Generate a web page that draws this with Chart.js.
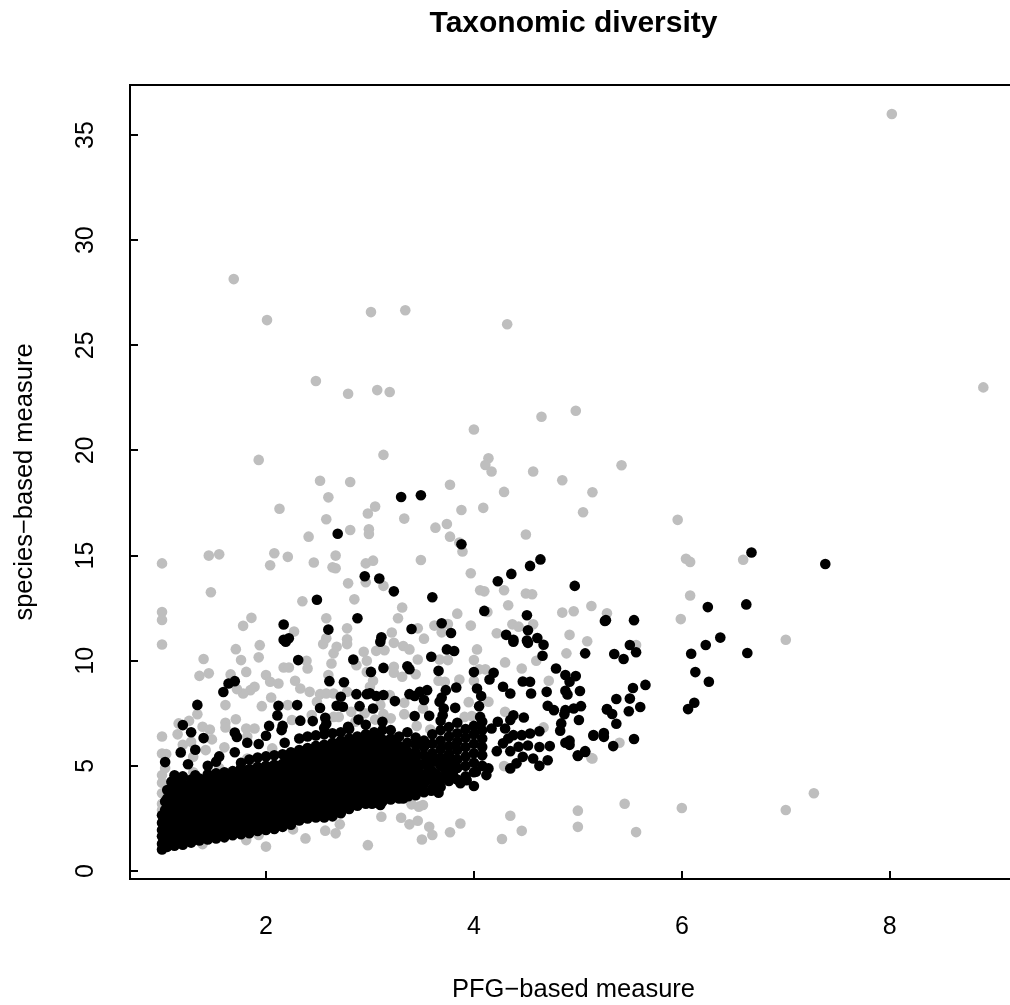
<!DOCTYPE html>
<html><head><meta charset="utf-8">
<script src="https://cdn.jsdelivr.net/npm/chart.js@4"></script>
<style>html,body{margin:0;padding:0;background:#fff;overflow:hidden}#w{width:1010px;height:1005px;overflow:hidden}canvas{display:block}</style>
</head><body><div id="w"><canvas id="c" width="1017" height="1005"></canvas></div>
<script>
const chartTitle="Taxonomic diversity";
const xTitle="PFG\u2212based measure";
const yTitle="species\u2212based measure";
const xTicks=[2,4,6,8];
const yTicks=[0,5,10,15,20,25,30,35];
const grayColour="#bebebe";
const blackColour="#000000";

const grayOutliers=[[8.02,36],[8.9,23],[1.69,28.15],[2.01,26.2],[3.01,26.58],[3.34,26.67],[4.32,26],[2.48,23.3],[2.79,22.7],[3.07,22.87],[3.19,22.78],
[4.65,21.6],[4.98,21.89],[4,21],[1.93,19.55],[3.13,19.79],[4.14,19.63],[4.11,19.31],[4.17,19],[4.57,19],[5.42,19.3],[4.85,18.58],[5.14,18.01],[3.77,18.37],[4.29,18.03],
[2.52,18.56],[2.81,18.5],[2.6,17.77],[2.13,17.23],[2.98,17],[3.05,17.33],[3.88,17.17],[4.09,17.27],[5.05,17.06],[3.33,16.76],[2.58,16.73],[5.96,16.7],
[2.99,16.25],[2.99,16.03],[2.81,16.22],[2.41,15.9],[3.63,16.33],[3.74,16.5],[3.77,15.9],[3.86,15.62],[3.89,15.2],[4.5,16],
[2.08,15.11],[2.21,14.94],[2.04,14.54],[2.46,14.67],[2.67,15],[2.64,14.44],[2.67,14.4],[2.96,14.63],[3.03,14.76],[3.49,14.79],[3.97,14.16],
[1,14.63],[1.45,15],[1.55,15.06],[1.47,13.26],[6.04,14.85],[6.08,14.7],[6.59,14.8],[6.08,13.1],[5.99,11.98],[7,11],
[2.79,13.68],[2.96,13.73],[2.35,12.83],[2.85,12.92],[3.13,13.56],[4.06,13.35],[4.1,13.3],[4.29,13.35],[4.5,13.2],[4.56,13.16],
[1,12.32],[1,11.94],[2.58,12.02],[1.86,12.04],[1.78,11.66],[2.78,11.54],[2.27,11.39],[2.58,11.07],[2.78,11.02],
[3.31,12.53],[4.33,12.64],[3.84,12.24],[4.85,12.29],[4.96,12.35],[5.13,12.6],[5.28,12.26],[3.27,12.02],[4.37,11.73],[4.43,11.62],[4.57,11.73],[3.97,11.67],[3.75,11.75],[3.62,11.67],[3.46,11.54],[3.21,11.34],[3.69,11.35],[4.22,11.31],[4.92,11.23],[3.52,11.05],[4.13,12.32],[5.56,10.75]];

const grayUpperLeft=[[1,10.77],[1.71,10.55],[1.94,10.74],[1.4,10.08],[1.76,10.03],[1.93,10.16],[1.36,9.28],[1.45,9.4],[1.66,9.35],[1.81,9.47],[2,9.32],[2.17,9.68],[2.22,9.68],[2.39,10],[2.4,9.63],
[2.04,9],[2.12,8.92],[2.28,9.05],[2.33,8.68],[2.42,8.52],[1.89,8.76],[1.85,8.6],[1.78,8.44],[1.72,8.65],[1.61,7.89],[2.05,8.25],[1.96,7.84],[2.21,7.89],[1.34,7.46],[1.71,7.22],[1.61,7.05],[1.61,6.83],
[1.26,7.14],[1.16,7.02],[1.39,6.86],[1.46,6.73],[1.15,6.5],[1,6.4],[1.28,6.15],[1.48,6.26],[1.2,6],[1.42,5.75],[1.6,5.88],[1,5.59],[1.04,5.56],[1.3,5.43],[1.81,6.78],[1.89,6.78],[1.82,6.4],[2.06,5.83],[2.25,7.18],
[2.49,8.05],[2.52,8.41],[2.58,8.44],[2.65,8.44],[2.78,8.52],[2.6,9.32],[2.63,9.87],[2.65,10.35],[2.55,10.79],[2.68,10.66],[2.78,10.79],[2.94,10.43],[2.97,10],[2.97,9.47],[2.87,9.79],
[2.7,7.33],[2.65,7.33],[2.44,7.42],[2.82,7.57],[2.87,6.38],[1,4.56],[1,4.2],[1,3.7],[1,3.2],[1,2.9],[1.03,4.9],[1.82,5.35],[1.9,5.2],[1.55,4.9],[1.3,4.7]];

const grayLower=[[1.81,1.47],[2,1.16],[2.26,1.98],[2.38,1.55],[2.57,1.92],[2.67,1.79],[2.71,2.22],[1.39,1.28],[1.93,1.71],[2.98,1.23],[2.65,2.66],
[3.4,3.17],[3.51,3.14],[3.47,3.06],[3.11,2.58],[3.3,2.53],[3.38,2.22],[3.46,2.39],[3.57,2.1],[3.6,1.71],[3.5,1.5],[3.77,1.84],[3.87,2.26],[4.27,1.52],[4.35,2.63],[4.46,1.91],[5,2.87],[5,2.1],[5.45,3.2],[5.56,1.85],[6,3],[7,2.9],[7.27,3.7],[5.13,5.37],[5.4,6.1]];

const grayMiddle=[[3.23,10.85],[3.32,10.7],[3.38,10.54],[3.06,10.47],[3.14,10.5],[3.46,10.06],[3.67,10.06],[3.75,10.03],[4.03,10.54],[4,10.03],[4.3,9.92],[4.11,9.59],[4.05,9.59],[4.46,9.63],[4.6,10],[4.89,10.35],[5.09,10.93],
[3.23,9.71],[3.23,9.43],[3.31,9.24],[3.44,9.36],[3.03,9.05],[3.66,9.05],[3.72,9],[3.86,9.11],[4,9.05],[4.72,9.05],[3,8.76],[3.19,8.37],[3.33,8],[3.51,7.73],[3.95,8.03],[4.14,8.05],[4.3,7.57],[3.13,7.46],[3.2,7.26],[3.33,7.46],[3.91,7.33],[3.98,7.37],[3.58,6.73],[4.67,6.83],[5.14,5.35],[4.29,4.99],[3.45,6.9],[3.1,7.9],[2.95,7.5],[2.86,7.1],[3.05,7.2]];

const blackOutliers=[[3.3,17.79],[3.49,17.87],[2.69,16.04],[3.88,15.54],[4.64,14.82],[4.54,14.51],[4.36,14.13],[4.23,13.78],[3.09,13.91],[2.95,14.02],[3.23,13.3],[3.6,13.02],[4.97,13.56],[2.49,12.9],
[7.38,14.6],[6.67,15.15],[6.62,12.68],[6.25,12.55],[5.27,11.93],[5.54,11.93],[6.37,11.1],[6.23,10.75],[6.09,10.33],[6.63,10.37],[6.13,9.46],[6.26,9],[6.06,7.7],[6.12,8],
[5.65,8.85],[5.53,8.7],[5.6,7.8],[5.49,7.6],[5.5,8.2],[5.37,8.18],[5.28,7.7],[5.33,7.47],[5.37,7],[5.25,6.56],[5.15,6.47],[5.34,5.94],[5.54,6.28],[5.07,5.66],[5,5.5],[5.5,10.75],[5.44,10.08],[5.56,10.4],[5.35,10.32],
[4.1,12.37],[4.51,12.16],[3.69,11.78],[3.4,11.51],[3.78,11.32],[5.26,11.89],[4.52,11.45],[4.31,11.23],[4.61,11.08],[3.11,11.12],[4.38,11],[4.51,10.96],[2.88,12.02],[2.6,11.48],[2.17,11.72],[2.22,11.07],[2.17,11]];

const blackScattered=[[2.19,10.9],[2.31,10.03],[2.84,10.06],[1.7,9.03],[1.64,8.92],[1.59,8.51],[1.34,7.9],[2.61,9.03],[2.75,8.98],[2.3,7.89],[2.12,7.86],[2.11,7.4],[2.52,7.75],
[1.2,6.94],[1.28,6.6],[1.4,6.32],[1.32,5.77],[1.18,5.64],[1.03,5.18],[1.25,5.08],[1.7,6.59],[1.72,6.37],[1.7,5.65],[1.55,5.45],[1.82,6.1],[1.93,6.04],[2.03,6.9],[2,6.43],[2.16,6.9],[2.15,6.7],[2.18,6.1],[2.33,7.15],[2.45,7.13],
[2.72,8.29],[2.87,8.41],[2.97,8.41],[2.68,7.86],[2.74,7.81],[2.9,7.84],[2.89,7.2],[2.79,6.86],[2.57,7.29],[2.58,7],
[3.1,10.9],[3.74,10.54],[3.81,10.46],[3.59,10.19],[4.66,10.24],[4.67,10.76],[5.07,10.35],[4.38,10.9],[4.52,10.85],[3.13,9.66],[3.36,9.74],[3.38,9.6],[3.66,9.52],[3.01,9.47],[4,9.46],[4.19,9.43],[4.15,9.11],[4.79,9.63],[4.88,9.32],[4.98,9.27],[4.92,9],
[4.28,8.76],[4.35,8.44],[4.47,9.01],[4.54,9],[4.55,8.44],[4.7,8.52],[4.88,8.57],[4.9,8.4],[5.02,8.56],[3.83,8.73],[3.73,8.6],[4.03,8.68],[4.07,8.32],[3.55,8.6],[3.48,8.52],[3.38,8.41],[3.43,8.32],[3.52,8.13],[3.24,8.08],[3.13,8.37],[3.06,8.32],[3,8.45],[3.03,7.73],
[3.67,8.05],[3.69,8.25],[3.71,7.73],[3.82,7.76],[4.05,7.84],[3.57,7.38],[3.43,7.37],[3.7,7.41],[4.06,7.33],[4.48,7.3],[4.38,7.41],[4.23,7.1],[4.35,7.18],[4.71,7.86],[4.77,7.65],[4.88,7.65],[4.96,7.73],[5.03,7.84],[4.87,7.46],[5.01,7.18],[5.28,7.68],[4.84,7.02],[4.83,6.67],
[5.15,6.43],[5.25,6.38],[4.88,6.1],[4.92,6],[4.92,6.2],[5.07,5.7],[5,5.47],[4.71,5.27],[4.73,5.94],[4.63,5.9],[4.52,5.97],[4.63,5],[4.63,6.65],[4.54,6.54],[4.46,6.46],[4.38,6.46],[4.33,6.3],[4.28,6.07],[4.22,5.7],[4.35,5.7],[4.43,5.91],[4.47,5.43],[4.57,5.35],[4.41,5.12],[4.35,4.88],[4.17,6.78],[4.3,6.78],
[4.14,4.88],[4.12,4.56],[4.02,4.72],[4,4.04],[3.93,4.32],[3.87,4.17],[3.76,4.28],[3.79,4.72],[3.66,3.72],[3.59,3.82],[3.64,4.32],[3.37,3.56],[3.32,3.45],[3.1,3.14],[3.02,3.2],[3.48,3.85]];

// main cloud, read column by column: [x, y values at that x]
const blackCloud=[
[1,[1.02,1.3,1.65,1.95,2.3,2.65]],[1.05,[1.15,1.55,1.9,2.3,2.75,3.1,3.45,3.85]],[1.12,[1.2,1.6,2,2.4,2.8,3.2,3.6,4,4.55]],
[1.2,[1.25,1.65,2.1,2.5,2.9,3.35,3.75,4.15,4.5]],[1.28,[1.35,1.75,2.2,2.6,3,3.4,3.85,4.35]],[1.36,[1.45,1.85,2.25,2.65,3.1,3.55,3.95,4.4]],
[1.44,[1.5,1.9,2.3,2.75,3.2,3.6,4.05,4.6,5]],[1.52,[1.55,1.95,2.4,2.85,3.25,3.7,4.1,4.65,5.2]],[1.6,[1.6,2,2.45,2.9,3.35,3.75,4.2,4.7]],
[1.68,[1.7,2.1,2.5,2.95,3.4,3.85,4.3,4.75]],[1.76,[1.75,2.15,2.6,3.05,3.5,3.9,4.35,4.9,5.15]],[1.84,[1.8,2.2,2.65,3.1,3.55,4,4.4,4.85,5.3]],
[1.92,[1.9,2.3,2.75,3.2,3.6,4.05,4.5,4.95,5.4]],[2,[1.95,2.35,2.8,3.25,3.7,4.1,4.55,5,5.45]],[2.08,[2,2.4,2.85,3.3,3.75,4.2,4.6,5.05,5.5]],
[2.16,[2.1,2.5,2.9,3.35,3.8,4.25,4.7,5.1,5.55]],[2.24,[2.2,2.6,3,3.4,3.85,4.3,4.75,5.2,5.65]],[2.32,[2.4,2.8,3.2,3.6,4,4.4,4.85,5.3,5.75,6.3]],
[2.4,[2.5,2.9,3.3,3.7,4.1,4.5,4.95,5.4,5.85,6.4]],[2.48,[2.55,2.95,3.35,3.8,4.2,4.6,5.05,5.5,5.95,6.45]],[2.56,[2.55,3,3.4,3.85,4.3,4.7,5.1,5.55,6,6.5,6.8]],
[2.64,[2.6,3,3.45,3.9,4.35,4.8,5.2,5.65,6.1,6.55]],[2.72,[2.75,3.15,3.55,4,4.4,4.85,5.3,5.75,6.2,6.6]],[2.8,[2.95,3.3,3.7,4.1,4.5,4.95,5.4,5.85,6.3,6.75]],
[2.88,[3.1,3.5,3.9,4.3,4.7,5.15,5.55,6,6.4]],[2.96,[3.2,3.6,4,4.4,4.8,5.25,5.65,6.1,6.5,6.95]],[3.04,[3.25,3.65,4.05,4.5,4.9,5.3,5.75,6.15,6.6]],
[3.12,[3.3,3.7,4.1,4.55,5,5.4,5.85,6.25,6.7,7.1]],[3.2,[3.4,3.8,4.2,4.6,5.05,5.5,5.9,6.3,6.7]],[3.28,[3.45,3.9,4.3,4.7,5.1,5.55,5.95,6.4]],
[3.36,[3.7,4.1,4.5,4.9,5.3,5.7,6.1,6.6]],[3.44,[3.6,4,4.4,4.85,5.3,5.65,6,6.35]],[3.52,[3.75,4.15,4.6,5.1,5.5,5.9,6.2]],
[3.6,[3.9,4.3,4.75,5.2,5.6,6.05,6.5]],[3.68,[4,4.45,5,5.4,5.8,6.2,6.7,7.15]],[3.76,[4.65,5.1,5.55,5.95,6.4,6.85]],
[3.84,[4.35,4.9,5.3,5.75,6.15,6.55,7.05]],[3.92,[4.5,5,5.45,5.9,6.35,6.75]],[4,[4.7,5.15,5.6,6.05,6.5,6.9]],[4.08,[5,5.5,5.9,6.3,6.7,7.1]]];

const blackCloudInfill=[
[1.03,[1.2,1.5,1.8,2.15,2.5,2.9,3.3]],[1.09,[1.4,1.8,2.2,2.6,3,3.4,3.8,4.25]],[1.16,[1.45,1.85,2.25,2.65,3.05,3.45,3.9,4.3]],[1.24,[1.45,1.9,2.3,2.7,3.15,3.55,3.95]],
[1.32,[1.55,2,2.4,2.85,3.25,3.65,4.1,4.55]],[1.4,[1.65,2.05,2.5,2.9,3.3,3.75,4.2]],[1.48,[1.7,2.1,2.55,3,3.4,3.85,4.35]],[1.56,[1.75,2.2,2.65,3.05,3.5,3.95,4.4]],
[1.64,[1.85,2.3,2.7,3.15,3.6,4,4.5]],[1.72,[1.9,2.35,2.8,3.25,3.7,4.1,4.55]],[1.8,[2,2.4,2.85,3.3,3.75,4.2,4.6]],[1.88,[2.05,2.5,2.9,3.35,3.8,4.25,4.7]],
[1.96,[2.1,2.55,3,3.4,3.85,4.3,4.75]],[2.04,[2.2,2.6,3.05,3.5,3.9,4.35,4.8]],[2.12,[2.25,2.65,3.1,3.55,4,4.4,4.9]],[2.2,[2.35,2.75,3.2,3.6,4.05,4.5,4.95,5.4]],
[2.28,[2.5,3,3.4,3.8,4.2,4.6,5,5.5]],[2.36,[2.6,3.05,3.45,3.9,4.3,4.7,5.1,5.55]],[2.44,[2.7,3.15,3.55,4,4.4,4.8,5.2,5.65]],[2.52,[2.75,3.2,3.6,4.05,4.5,4.9,5.3,5.75]],
[2.6,[2.8,3.2,3.65,4.1,4.55,5,5.4,5.85]],[2.68,[2.85,3.3,3.75,4.2,4.6,5.05,5.5,5.95]],[2.76,[3.05,3.45,3.85,4.25,4.65,5.1,5.6,6.05]],[2.84,[3.2,3.6,4,4.5,4.9,5.35,5.8,6.2]],
[2.92,[3.35,3.8,4.2,4.6,5,5.45,5.85,6.3]],[3,[3.45,3.85,4.25,4.7,5.1,5.5,5.95,6.35]],[3.08,[3.5,3.9,4.3,4.75,5.2,5.6,6.05,6.45]],[3.16,[3.5,3.95,4.35,4.8,5.2,5.65,6.1]],
[3.24,[3.65,4.05,4.5,4.9,5.3,5.75,6.15]],[3.32,[3.7,4.1,4.55,5,5.4,5.85]],[3.4,[3.85,4.25,4.65,5.1,5.5]],[3.48,[4.2,4.65,5.05]],
[3.56,[4.4,4.95,5.3]],[3.64,[4.2,4.6,5.2]],[3.72,[4.4,4.85,5.3]],[3.8,[4.55,5.3]]];

const toPoint=p=>({x:p[0],y:p[1]});
const grayData=[...grayOutliers,...grayUpperLeft,...grayLower,...grayMiddle].map(toPoint);
const cloudData=[...blackCloud,...blackCloudInfill].flatMap(c=>c[1].map(y=>({x:c[0],y})));
const blackData=[...blackOutliers,...blackScattered].map(toPoint).concat(cloudData);

Chart.defaults.font.family='"Liberation Sans",Arial,sans-serif';
Chart.defaults.color='#000';
const axisLine={display:true,color:'#000',width:2};
new Chart(document.getElementById('c'),{
 type:'scatter',
 data:{datasets:[
  {label:'black',data:blackData,order:1,backgroundColor:blackColour,borderWidth:0,pointRadius:5.3},
  {label:'gray',data:grayData,order:2,backgroundColor:grayColour,borderWidth:0,pointRadius:5.3}
 ]},
 options:{
  responsive:false,animation:false,devicePixelRatio:1,
  layout:{padding:0,autoPadding:false},
  plugins:{legend:{display:false},tooltip:{enabled:false},
   title:{display:true,text:chartTitle,fullSize:false,font:{size:30,weight:'bold'},color:'#000',padding:{top:6,bottom:43}}},
  scales:{
   x:{type:'linear',position:'bottom',min:0.692,max:9.224,
    afterBuildTicks:s=>{s.ticks=xTicks.map(v=>({value:v}));},
    afterFit:s=>{s.height=126;s.paddingLeft=0;s.paddingRight=0;},
    border:axisLine,
    grid:{drawOnChartArea:false,drawTicks:true,tickLength:-8,color:'#000',lineWidth:2},
    ticks:{autoSkip:false,maxRotation:0,font:{size:25},padding:41,color:'#000',callback:v=>String(v)},
    title:{display:true,text:xTitle,font:{size:25.5},color:'#000',padding:{top:2,bottom:0}}},
   xTop:{type:'linear',position:'top',min:0.692,max:9.224,
    afterBuildTicks:s=>{s.ticks=[];},
    afterFit:s=>{s.height=0;s.paddingLeft=0;s.paddingRight=0;},
    border:axisLine,
    grid:{drawOnChartArea:false,drawTicks:false},
    ticks:{display:false}},
   y:{type:'linear',position:'left',min:-0.38,max:37.38,
    afterBuildTicks:s=>{s.ticks=yTicks.map(v=>({value:v}));},
    afterFit:s=>{s.width=130;},
    border:axisLine,
    grid:{drawOnChartArea:false,drawTicks:true,tickLength:-8,color:'#000',lineWidth:2},
    ticks:{autoSkip:false,minRotation:90,maxRotation:90,crossAlign:'center',font:{size:25},padding:38,color:'#000',callback:v=>String(v)},
    title:{display:true,text:yTitle,font:{size:25.5},color:'#000',padding:{top:10,bottom:0}}}
  }
 }
});
</script></body></html>
